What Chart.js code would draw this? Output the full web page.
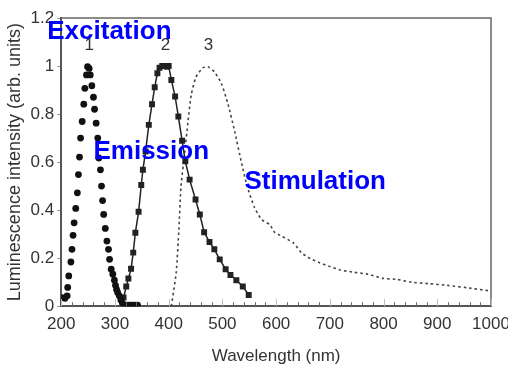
<!DOCTYPE html>
<html>
<head>
<meta charset="utf-8">
<script src="https://cdn.jsdelivr.net/npm/chart.js@4"></script>
<style>
    body { margin: 0; background: #fff; }
    canvas { display: block; }
</style>
</head>
<body>
<canvas id="grafico" width="508" height="378"></canvas>
<script>
// Datos
const excitacionNm = [202, 207, 211, 212, 214, 218, 220, 222, 224, 227, 230, 232, 234, 236, 239, 242, 244, 247, 249, 252, 254, 257, 260, 262, 265, 268, 270, 273, 275, 277, 279, 282, 285, 288, 290, 293, 296, 299, 301, 303, 305, 308, 311, 314, 318, 322, 326, 330, 334, 338, 342];
const excitacionVal = [0.036, 0.033, 0.043, 0.078, 0.126, 0.184, 0.237, 0.295, 0.347, 0.407, 0.472, 0.548, 0.621, 0.70, 0.769, 0.841, 0.907, 0.963, 0.997, 0.99, 0.963, 0.918, 0.87, 0.82, 0.762, 0.70, 0.617, 0.568, 0.50, 0.44, 0.382, 0.324, 0.271, 0.237, 0.195, 0.154, 0.133, 0.108, 0.087, 0.07, 0.057, 0.043, 0.026, 0.012, 0.004, 0.004, 0.004, 0.004, 0.004, 0.004, 0.004];

const emisionNm = [316, 321, 325, 330, 334, 338, 344, 349, 352, 357, 363, 369, 374, 379, 383, 388, 392, 397, 400, 405, 412, 418, 425, 431, 439, 450, 458, 466, 476, 485, 495, 506, 515, 526, 538, 549];
const emisionVal = [0.036, 0.082, 0.115, 0.156, 0.223, 0.306, 0.393, 0.505, 0.568, 0.644, 0.755, 0.841, 0.912, 0.97, 0.993, 1.0, 1.0, 0.997, 1.0, 0.942, 0.873, 0.79, 0.689, 0.603, 0.527, 0.444, 0.382, 0.308, 0.267, 0.237, 0.195, 0.154, 0.13, 0.108, 0.082, 0.047];

const estimulacionNm = [405, 414, 419, 423, 430, 436, 442, 451, 464, 473, 485, 498, 510, 523, 535, 546, 560, 573, 588, 597, 610, 632, 647, 663, 681, 700, 719, 743, 771, 799, 824, 852, 883, 918, 955, 1000];
const estimulacionVal = [0, 0.14, 0.32, 0.50, 0.644, 0.769, 0.88, 0.955, 0.993, 0.997, 0.976, 0.928, 0.845, 0.727, 0.603, 0.50, 0.41, 0.361, 0.34, 0.308, 0.292, 0.264, 0.223, 0.199, 0.181, 0.165, 0.151, 0.142, 0.133, 0.116, 0.112, 0.10, 0.094, 0.087, 0.077, 0.063];

const ejeX = { min: 200, max: 1000, paso: 100 };
const ejeY = { min: 0, max: 1.2, paso: 0.2 };

// etiquetas de numero de curva y nombres (en coordenadas de datos)
const numeros = [
    { texto: '1', nm: 252, val: 1.087 },
    { texto: '2', nm: 394, val: 1.087 },
    { texto: '3', nm: 474, val: 1.087 }
];
const nombres = [
    { texto: 'Excitation', nm: 174, val: 1.141 },
    { texto: 'Emission', nm: 260, val: 0.643 },
    { texto: 'Stimulation', nm: 541, val: 0.519 }
];

const FUENTE = '"Liberation Sans", Arial, sans-serif';

function puntos(xs, ys) {
    return xs.map((x, i) => ({ x: x, y: ys[i] }));
}

// marco superior/derecho, marcas interiores del eje x y textos
const decoracion = {
    id: 'decoracion',
    afterDraw(chart) {
        const ctx = chart.ctx;
        const a = chart.chartArea;
        const sx = chart.scales.x;
        const sy = chart.scales.y;
        ctx.save();

        ctx.strokeStyle = '#666';
        ctx.lineWidth = 1.5;
        ctx.beginPath();
        ctx.moveTo(a.left, a.top);
        ctx.lineTo(a.right, a.top);
        ctx.lineTo(a.right, a.bottom);
        ctx.stroke();

        for (let v = ejeX.min; v <= ejeX.max; v += 20) {
            const px = Math.round(sx.getPixelForValue(v)) + 0.5;
            const mayor = v % 100 === 0;
            ctx.strokeStyle = mayor ? '#bbb' : '#666';
            ctx.lineWidth = 1;
            ctx.beginPath();
            ctx.moveTo(px, a.bottom - (mayor ? 7 : 4));
            ctx.lineTo(px, a.bottom);
            ctx.stroke();
        }

        ctx.fillStyle = '#333';
        ctx.font = '17px ' + FUENTE;
        ctx.textAlign = 'center';
        ctx.textBaseline = 'middle';
        numeros.forEach(n => {
            ctx.fillText(n.texto, sx.getPixelForValue(n.nm), sy.getPixelForValue(n.val));
        });

        ctx.fillStyle = '#0000ff';
        ctx.font = 'bold 26px ' + FUENTE;
        ctx.textAlign = 'left';
        nombres.forEach(n => {
            ctx.fillText(n.texto, sx.getPixelForValue(n.nm), sy.getPixelForValue(n.val));
        });
        ctx.restore();
    }
};

const fondo = {
    id: 'fondo',
    beforeDraw(chart) {
        const ctx = chart.ctx;
        ctx.save();
        ctx.fillStyle = '#fff';
        ctx.fillRect(0, 0, chart.width, chart.height);
        ctx.restore();
    }
};

new Chart(document.getElementById('grafico').getContext('2d'), {
    type: 'scatter',
    data: {
        datasets: [
            {
                label: 'Excitation',
                data: puntos(excitacionNm, excitacionVal),
                showLine: false,
                pointStyle: 'circle',
                pointRadius: 3.4,
                backgroundColor: '#111',
                borderColor: '#111',
                borderWidth: 0
            },
            {
                label: 'Emission',
                data: puntos(emisionNm, emisionVal),
                showLine: true,
                borderColor: '#222',
                borderWidth: 1.5,
                pointStyle: 'rect',
                pointRadius: 4.2,
                backgroundColor: '#222',
                pointBorderWidth: 0
            },
            {
                label: 'Stimulation',
                data: puntos(estimulacionNm, estimulacionVal),
                showLine: true,
                borderColor: '#444',
                borderWidth: 1.6,
                borderDash: [2.5, 3],
                pointRadius: 0,
                tension: 0.2
            }
        ]
    },
    options: {
        responsive: false,
        animation: false,
        layout: { padding: { top: 18, right: 0, left: 4, bottom: 11 } },
        plugins: {
            legend: { display: false },
            tooltip: { enabled: false }
        },
        scales: {
            x: {
                type: 'linear',
                min: ejeX.min,
                max: ejeX.max,
                afterFit: escala => { escala.paddingRight = 17; },
                border: { display: true, color: '#555', width: 2 },
                grid: { display: true, drawOnChartArea: false, drawTicks: false },
                ticks: {
                    stepSize: ejeX.paso,
                    color: '#333',
                    padding: 8,
                    maxRotation: 0,
                    font: { family: FUENTE, size: 17 },
                    callback: v => String(v)
                },
                title: {
                    display: true,
                    text: 'Wavelength (nm)',
                    color: '#333',
                    padding: { top: 4, bottom: 0 },
                    font: { family: FUENTE, size: 17 }
                }
            },
            y: {
                min: ejeY.min,
                max: ejeY.max,
                border: { display: true, color: '#555', width: 2 },
                grid: { display: true, drawOnChartArea: false, drawTicks: true, tickLength: 4, color: '#8899aa' },
                ticks: {
                    stepSize: ejeY.paso,
                    color: '#333',
                    padding: 3,
                    font: { family: FUENTE, size: 17 },
                    callback: v => String(+v.toFixed(1))
                },
                title: {
                    display: true,
                    text: 'Luminescence intensity (arb. units)',
                    color: '#333',
                    padding: { top: 0, bottom: 2 },
                    font: { family: FUENTE, size: 18 }
                }
            }
        }
    },
    plugins: [fondo, decoracion]
});
</script>
</body>
</html>
